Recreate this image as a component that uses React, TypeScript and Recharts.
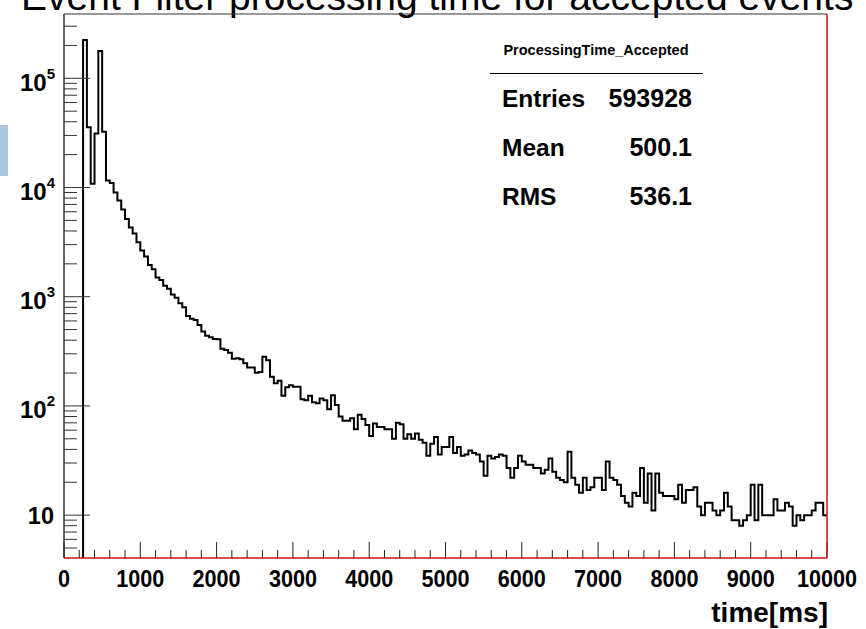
import React from "react";
import { LineChart, Line, XAxis, YAxis } from "recharts";

// 50 ms bins, first filled bin starts at 250 ms
const FIRST_EDGE = 250;
const BIN_WIDTH = 50;
const X_MAX = 10000;
const Y_MIN = 4.05;
const Y_MAX = 388000;

// 250 - 1000 ms
const countsPeak = [224000, 35700, 10800, 31300, 178000, 32400, 11600, 11000, 9000, 7600, 6300, 5150, 4300, 3800, 3150];
// 1000 - 3000 ms
const countsDecay = [
  2650, 2330, 1950, 1780, 1500, 1420, 1260, 1180, 1050, 980,
  870, 800, 665, 630, 612, 550, 480, 440, 425, 410,
  407, 334, 325, 307, 270, 273, 267, 246, 225, 225,
  201, 204, 282, 262, 185, 161, 170, 124, 148, 155,
];
// 3000 - 6000 ms
const countsMid = [
  150, 150, 115, 113, 124, 108, 106, 117, 113, 93,
  125, 102, 80, 73, 73, 77, 61, 83, 76, 67,
  53, 69, 64, 64, 61, 61, 50, 70, 68, 50,
  55, 50, 56, 49, 46, 35, 45, 52, 36, 42,
  42, 52, 37, 42, 35, 36, 39, 37, 36, 31,
  23, 35, 33, 34, 36, 35, 27, 22, 27, 35,
];
// 6000 - 10000 ms
const countsTail = [
  31, 29, 29, 27, 27, 24, 26, 33, 25, 22,
  21, 20, 38, 22, 19, 16, 22, 17, 18, 22,
  22, 17, 31, 22, 21, 19, 15, 13, 12, 16,
  15, 27, 13, 24, 11, 24, 16, 15, 15, 15,
  14, 19, 13, 17, 17, 18, 12, 10, 13, 13,
  11, 10, 11, 16, 12, 9, 9, 8, 9, 10,
  19, 9, 19, 10, 10, 10, 14, 11, 11, 13,
  12, 8, 10, 9, 10, 10, 11, 13, 13, 10,
];

const xLabelTicks = [0, 1000, 2000, 3000, 4000, 5000, 6000, 7000, 8000, 9000, 10000];
const logMultipliers = [1, 2, 3, 4, 5, 6, 7, 8, 9];
const decades = [0, 1, 2, 3, 4, 5];

const statsTitle = "ProcessingTime_Accepted";
const statsRows = [
  ["Entries", "593928"],
  ["Mean", "500.1"],
  ["RMS", "536.1"],
];

const counts = [...countsPeak, ...countsDecay, ...countsMid, ...countsTail];
const data = [
  { t: FIRST_EDGE, n: Y_MIN },
  ...counts.map((n, i) => ({ t: FIRST_EDGE + i * BIN_WIDTH, n })),
  { t: X_MAX, n: counts[counts.length - 1] },
];

const xTicks: number[] = [];
for (let v = 0; v <= X_MAX; v += 200) xTicks.push(v);

const yTicks: number[] = [];
decades.forEach((d) =>
  logMultipliers.forEach((m) => {
    const v = m * Math.pow(10, d);
    if (v >= Y_MIN && v <= Y_MAX) yTicks.push(v);
  })
);

const FONT = "'Liberation Sans', Arial, Helvetica, sans-serif";

const XTick = (props: any) => {
  const { x, y, payload } = props;
  const v = payload.value as number;
  const major = xLabelTicks.includes(v);
  return (
    <g>
      <line x1={x} x2={x} y1={y} y2={y - (major ? 16 : 8)} stroke="#222" strokeWidth={1} />
      {major && (
        <text
          transform={`translate(${x},${y + 29}) scale(0.94,1.08)`}
          x={0}
          y={0}
          textAnchor="middle"
          fontFamily={FONT}
          fontWeight="bold"
          fontSize={23}
          fill="#000"
        >
          {v}
        </text>
      )}
    </g>
  );
};

const YTick = (props: any) => {
  const { x, y, payload } = props;
  const v = payload.value as number;
  const lg = Math.log10(v);
  const exp = Math.round(lg);
  const major = Math.abs(lg - exp) < 1e-6;
  return (
    <g>
      <line x1={x} x2={x + (major ? 26 : 13)} y1={y} y2={y} stroke="#333" strokeWidth={1} />
      {major && exp === 1 && (
        <text x={54} y={y + 8.5} textAnchor="end" fontFamily={FONT} fontWeight="bold" fontSize={23.5} fill="#000">
          10
        </text>
      )}
      {major && exp > 1 && (
        <text x={55} y={y + 12.5} textAnchor="end" fontFamily={FONT} fontWeight="bold" fontSize={24} fill="#000">
          10
          <tspan dy={-12} fontSize={15}>
            {exp}
          </tspan>
        </text>
      )}
    </g>
  );
};

export default function App() {
  return (
    <div style={{ position: "absolute", left: 0, top: 0, width: 866, height: 629, background: "#fff", overflow: "hidden" }}>
      <LineChart width={866} height={629} data={data} margin={{ top: 14, right: 39, bottom: 11, left: 4 }}>
        <XAxis
          dataKey="t"
          type="number"
          domain={[0, X_MAX]}
          ticks={xTicks}
          interval={0}
          tick={<XTick />}
          tickLine={false}
          tickSize={0}
          tickMargin={0}
          height={60}
          axisLine={{ stroke: "#d01010", strokeWidth: 1.5 }}
          allowDataOverflow
        />
        <YAxis
          type="number"
          scale="log"
          domain={[Y_MIN, Y_MAX]}
          ticks={yTicks}
          interval={0}
          tick={<YTick />}
          tickLine={false}
          tickSize={0}
          tickMargin={0}
          width={60}
          axisLine={{ stroke: "#333", strokeWidth: 1.5 }}
          allowDataOverflow
        />
        <Line
          type="stepAfter"
          dataKey="n"
          stroke="#000"
          strokeWidth={2}
          dot={false}
          activeDot={false}
          isAnimationActive={false}
        />
      </LineChart>
      <svg
        width={866}
        height={629}
        style={{ position: "absolute", left: 0, top: 0, pointerEvents: "none" }}
      >
        <text x={21} y={10} fontFamily={FONT} fontSize={39} fill="#000">
          Event Filter processing time for accepted events
        </text>
        <line x1={64} x2={827} y1={14} y2={14} stroke="#333" strokeWidth={1} />
        <line x1={827} x2={827} y1={14} y2={558} stroke="#d01010" strokeWidth={1.5} />
        <rect x={0} y={125} width={8} height={51} fill="#a9c5dd" />
        <text x={596} y={55} textAnchor="middle" fontFamily={FONT} fontWeight="bold" fontSize={14.5} fill="#000">
          {statsTitle}
        </text>
        <line x1={490} x2={703} y1={73.5} y2={73.5} stroke="#000" strokeWidth={1.2} />
        {statsRows.map(([k, v], i) => (
          <g key={k}>
            <text x={502} y={107 + i * 49} fontFamily={FONT} fontWeight="bold" fontSize={24.5} fill="#000">
              {k}
            </text>
            <text x={692} y={107 + i * 49} textAnchor="end" fontFamily={FONT} fontWeight="bold" fontSize={25} fill="#000">
              {v}
            </text>
          </g>
        ))}
        <text x={828} y={622} textAnchor="end" fontFamily={FONT} fontWeight="bold" fontSize={28} fill="#000">
          time[ms]
        </text>
      </svg>
    </div>
  );
}
